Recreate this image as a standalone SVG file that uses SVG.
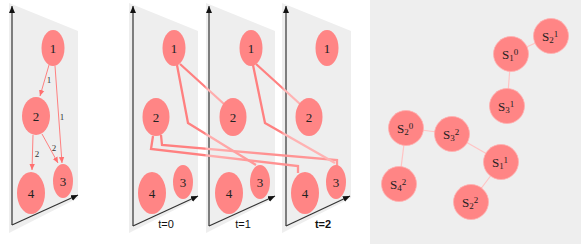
<svg xmlns="http://www.w3.org/2000/svg" width="581" height="244" viewBox="0 0 581 244">
<defs>
<style>
.panel{fill:#eeeeee}
.axis{stroke:#333;stroke-width:1.2;fill:none}
.nd{fill:#ff8585}
.lbl{font-family:"Liberation Serif","DejaVu Serif",serif;font-size:13px;fill:#222;text-anchor:middle;dominant-baseline:central}
.el{font-family:"Liberation Serif",serif;font-size:9px;fill:#333;text-anchor:middle;dominant-baseline:central}
.tl{font-family:"Liberation Sans","DejaVu Sans",sans-serif;font-size:11px;fill:#111;text-anchor:middle}
.e1{stroke:#ff8080;stroke-width:1;fill:none}
.tm{stroke-width:2.3;fill:none;stroke-linejoin:miter}
.se{stroke:#ffc4c4;stroke-width:1.2}
.sn{fill:#ff8585;stroke:#ffb0b0;stroke-width:0.8}
.sl{font-family:"Liberation Serif","DejaVu Serif",serif;font-size:13px;fill:#222}
.ss{font-size:9px}
</style>
<marker id="ax" markerWidth="8" markerHeight="8" refX="7" refY="4" orient="auto" markerUnits="userSpaceOnUse"><path d="M0,1 L7,4 L0,7 Z" fill="#111"/></marker>
<marker id="pa" markerWidth="7" markerHeight="7" refX="6" refY="3.5" orient="auto" markerUnits="userSpaceOnUse"><path d="M0,0.8 L6,3.5 L0,6.2 Z" fill="#ff7070"/></marker>
<linearGradient id="g0" gradientUnits="userSpaceOnUse" x1="129" y1="0" x2="351" y2="0">
<stop offset="0" stop-color="#ff8080"/><stop offset="0.34" stop-color="#ff8080"/><stop offset="0.35" stop-color="#ffb0b0"/><stop offset="0.62" stop-color="#ff9090"/><stop offset="1" stop-color="#ff9a9a"/>
</linearGradient>
<linearGradient id="g1" gradientUnits="userSpaceOnUse" x1="206" y1="0" x2="351" y2="0">
<stop offset="0" stop-color="#ff8080"/><stop offset="0.52" stop-color="#ff8080"/><stop offset="0.54" stop-color="#ffb3b3"/><stop offset="1" stop-color="#ffb3b3"/>
</linearGradient>
</defs>
<rect width="581" height="244" fill="#ffffff"/>

<g id="panel-static">
<polygon class="panel" points="9,3 78,31 78,198 9,233"/>
<path class="axis" d="M12,225 L12,6" marker-end="url(#ax)"/>
<path class="axis" d="M12,225 L78,195" marker-end="url(#ax)"/>
<g id="p1-edges">
<path class="e1" d="M49,65 L40,96" marker-end="url(#pa)"/>
<text class="el" x="49" y="80">1</text>
<path class="e1" d="M55,66 L62,163" marker-end="url(#pa)"/>
<text class="el" x="62" y="117">1</text>
<path class="e1" d="M33,135 L32,170" marker-end="url(#pa)"/>
<text class="el" x="37" y="154">2</text>
<path class="e1" d="M42,134 L58,163" marker-end="url(#pa)"/>
<text class="el" x="54" y="148">2</text>
</g>
<g id="p1-n1"><ellipse class="nd" cx="53" cy="48" rx="11.5" ry="18"/><text class="lbl" x="53" y="48">1</text></g>
<g id="p1-n2"><ellipse class="nd" cx="36" cy="116" rx="14" ry="19"/><text class="lbl" x="36" y="116">2</text></g>
<g id="p1-n3"><ellipse class="nd" cx="63" cy="181" rx="10" ry="17"/><text class="lbl" x="63" y="181">3</text></g>
<g id="p1-n4"><ellipse class="nd" cx="31" cy="193" rx="14" ry="21"/><text class="lbl" x="31" y="193">4</text></g>
</g>

<g id="panel-t0">
<polygon class="panel" points="129,3 198,31 198,198 129,233"/>
<path class="axis" d="M133,226 L133,6" marker-end="url(#ax)"/>
<path class="axis" d="M133,226 L198,196" marker-end="url(#ax)"/>
<text class="tl" x="166" y="228">t=0</text>
</g>
<g id="panel-t1">
<polygon class="panel" points="206,3 275,31 275,198 206,233"/>
<path class="axis" d="M209,226 L209,6" marker-end="url(#ax)"/>
<path class="axis" d="M209,226 L275,196" marker-end="url(#ax)"/>
<text class="tl" x="243" y="228">t=1</text>
</g>
<g id="panel-t2">
<polygon class="panel" points="282,3 351,31 351,198 282,233"/>
<path class="axis" d="M286,226 L286,6" marker-end="url(#ax)"/>
<path class="axis" d="M286,226 L350,196" marker-end="url(#ax)"/>
<text class="tl" x="323" y="228" font-weight="bold">t=2</text>
</g>

<g id="temporal-edges">
<path class="tm" stroke="url(#g0)" d="M180,64 L224,104"/>
<path class="tm" stroke="url(#g0)" d="M177,65 L188,123 L256,165"/>
<path class="tm" stroke="url(#g0)" d="M153,136 L151,149 L298,166 L298,173"/>
<path class="tm" stroke="url(#g0)" d="M161,135 L162,145 L337,160 L337,166"/>
<path class="tm" stroke="url(#g1)" d="M256,64 L300,104"/>
<path class="tm" stroke="url(#g1)" d="M253,65 L265,123 L335,163"/>
</g>

<g id="t0-n1"><ellipse class="nd" cx="174" cy="48" rx="11.5" ry="18"/><text class="lbl" x="174" y="48">1</text></g>
<g id="t0-n2"><ellipse class="nd" cx="156" cy="117" rx="13.5" ry="19"/><text class="lbl" x="156" y="117">2</text></g>
<g id="t0-n3"><ellipse class="nd" cx="183" cy="182" rx="10" ry="17"/><text class="lbl" x="183" y="182">3</text></g>
<g id="t0-n4"><ellipse class="nd" cx="152" cy="193" rx="14" ry="21"/><text class="lbl" x="152" y="193">4</text></g>

<g id="t1-n1"><ellipse class="nd" cx="251" cy="48" rx="11.5" ry="18"/><text class="lbl" x="251" y="48">1</text></g>
<g id="t1-n2"><ellipse class="nd" cx="233" cy="117" rx="13.5" ry="19"/><text class="lbl" x="233" y="117">2</text></g>
<g id="t1-n3"><ellipse class="nd" cx="260" cy="182" rx="10" ry="17"/><text class="lbl" x="260" y="182">3</text></g>
<g id="t1-n4"><ellipse class="nd" cx="229" cy="193" rx="14" ry="21"/><text class="lbl" x="229" y="193">4</text></g>

<g id="t2-n1"><ellipse class="nd" cx="327" cy="48" rx="11.5" ry="18"/><text class="lbl" x="327" y="48">1</text></g>
<g id="t2-n2"><ellipse class="nd" cx="309" cy="117" rx="13.5" ry="19"/><text class="lbl" x="309" y="117">2</text></g>
<g id="t2-n3"><ellipse class="nd" cx="336" cy="182" rx="10" ry="17"/><text class="lbl" x="336" y="182">3</text></g>
<g id="t2-n4"><ellipse class="nd" cx="305" cy="193" rx="14" ry="21"/><text class="lbl" x="305" y="193">4</text></g>

<rect x="370" y="0" width="211" height="244" fill="#eeeeee"/>
<g id="snap-edges">
<line class="se" x1="511" y1="54" x2="551" y2="36"/>
<line class="se" x1="511" y1="54" x2="507" y2="106"/>
<line class="se" x1="406" y1="128" x2="452" y2="134"/>
<line class="se" x1="406" y1="128" x2="399" y2="184"/>
<line class="se" x1="452" y1="134" x2="501" y2="162"/>
<line class="se" x1="501" y1="162" x2="471" y2="202"/>
</g>
<g id="S2-1"><circle class="sn" cx="551" cy="36" r="17.5"/><text class="sl" x="542" y="41">S<tspan class="ss" dy="2">2</tspan><tspan class="ss" dy="-6">1</tspan></text></g>
<g id="S1-0"><circle class="sn" cx="511" cy="54" r="17.5"/><text class="sl" x="502" y="59">S<tspan class="ss" dy="2">1</tspan><tspan class="ss" dy="-6">0</tspan></text></g>
<g id="S3-1"><circle class="sn" cx="507" cy="106" r="17.5"/><text class="sl" x="498" y="111">S<tspan class="ss" dy="2">3</tspan><tspan class="ss" dy="-6">1</tspan></text></g>
<g id="S2-0"><circle class="sn" cx="406" cy="128" r="17.5"/><text class="sl" x="397" y="133">S<tspan class="ss" dy="2">2</tspan><tspan class="ss" dy="-6">0</tspan></text></g>
<g id="S3-2"><circle class="sn" cx="452" cy="134" r="17.5"/><text class="sl" x="443" y="139">S<tspan class="ss" dy="2">3</tspan><tspan class="ss" dy="-6">2</tspan></text></g>
<g id="S1-1"><circle class="sn" cx="501" cy="162" r="17.5"/><text class="sl" x="492" y="167">S<tspan class="ss" dy="2">1</tspan><tspan class="ss" dy="-6">1</tspan></text></g>
<g id="S4-2"><circle class="sn" cx="399" cy="184" r="17.5"/><text class="sl" x="390" y="189">S<tspan class="ss" dy="2">4</tspan><tspan class="ss" dy="-6">2</tspan></text></g>
<g id="S2-2"><circle class="sn" cx="471" cy="202" r="17.5"/><text class="sl" x="462" y="207">S<tspan class="ss" dy="2">2</tspan><tspan class="ss" dy="-6">2</tspan></text></g>
</svg>
